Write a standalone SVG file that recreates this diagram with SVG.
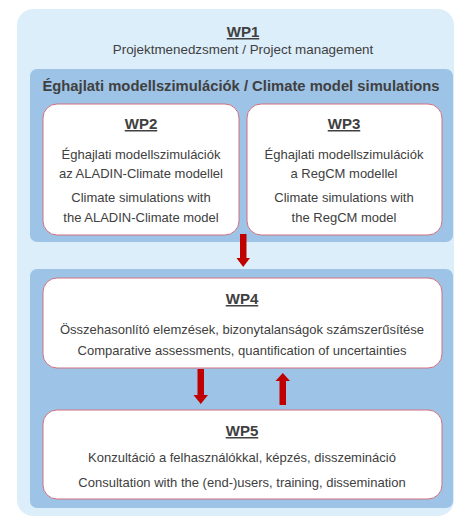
<svg xmlns="http://www.w3.org/2000/svg" width="456" height="517" viewBox="0 0 456 517">
<style>
text{font-family:"Liberation Sans",Arial,sans-serif;fill:#404040;text-anchor:middle}
.t{font-size:15px;font-weight:bold;text-decoration:underline}
.b{font-size:13px}
.card{fill:#fff;stroke:#D07080;stroke-width:1}
.band{fill:#9DC3E6}
.arrow{fill:#C00000}
</style>
<rect x="0" y="0" width="456" height="517" fill="#fff"/>
<g id="wp1">
<rect x="17" y="9" width="437" height="507" rx="16" fill="#DDEEFB"/>
<text class="t" x="243" y="37">WP1</text>
<text x="243" y="54" style="font-size:13.4px">Projektmenedzsment / Project management</text>
</g>
<g id="climate">
<rect class="band" x="30" y="69" width="423" height="173" rx="7"/>
<text x="241" y="91" style="font-size:14.8px;font-weight:bold">Éghajlati modellszimulációk / Climate model simulations</text>
</g>
<g id="wp2">
<rect class="card" x="43" y="104" width="196" height="131" rx="14"/>
<text class="t" x="141" y="129">WP2</text>
<text class="b" x="141" y="159">Éghajlati  modellszimulációk</text>
<text class="b" x="141" y="178">az ALADIN-Climate modellel</text>
<text class="b" x="141" y="202">Climate simulations  with</text>
<text class="b" x="141" y="222">the ALADIN-Climate model</text>
</g>
<g id="wp3">
<rect class="card" x="247" y="104" width="195" height="131" rx="14"/>
<text class="t" x="344" y="129">WP3</text>
<text class="b" x="344" y="159">Éghajlati  modellszimulációk</text>
<text class="b" x="344" y="178">a RegCM modellel</text>
<text class="b" x="344" y="202">Climate simulations  with</text>
<text class="b" x="344" y="222">the RegCM model</text>
</g>
<g id="analysis">
<rect class="band" x="30" y="269" width="423" height="239" rx="7"/>
</g>
<g id="wp4">
<rect class="card" x="43" y="278" width="399" height="90" rx="14"/>
<text class="t" x="242" y="304">WP4</text>
<text class="b" x="242" y="334">Összehasonlító  elemzések, bizonytalanságok  számszerűsítése</text>
<text class="b" x="242" y="355">Comparative assessments, quantification  of uncertainties</text>
</g>
<g id="wp5">
<rect class="card" x="43" y="410" width="399" height="89" rx="14"/>
<text class="t" x="242" y="436">WP5</text>
<text class="b" x="242" y="462">Konzultáció a felhasználókkal, képzés, disszemináció</text>
<text class="b" x="242" y="487">Consultation with the (end-)users, training, dissemination</text>
</g>
<g id="connectors">
<path class="arrow" d="M240,234 H246.5 V258 H250 L243.2,267 L236.5,258 H240 Z"/>
<path class="arrow" d="M197.5,369 H204 V395 H208 L200.8,404 L193.5,395 H197.5 Z"/>
<path class="arrow" d="M279.5,405 H286 V381 H290 L282.8,373 L275.5,381 H279.5 Z"/>
</g>
</svg>
